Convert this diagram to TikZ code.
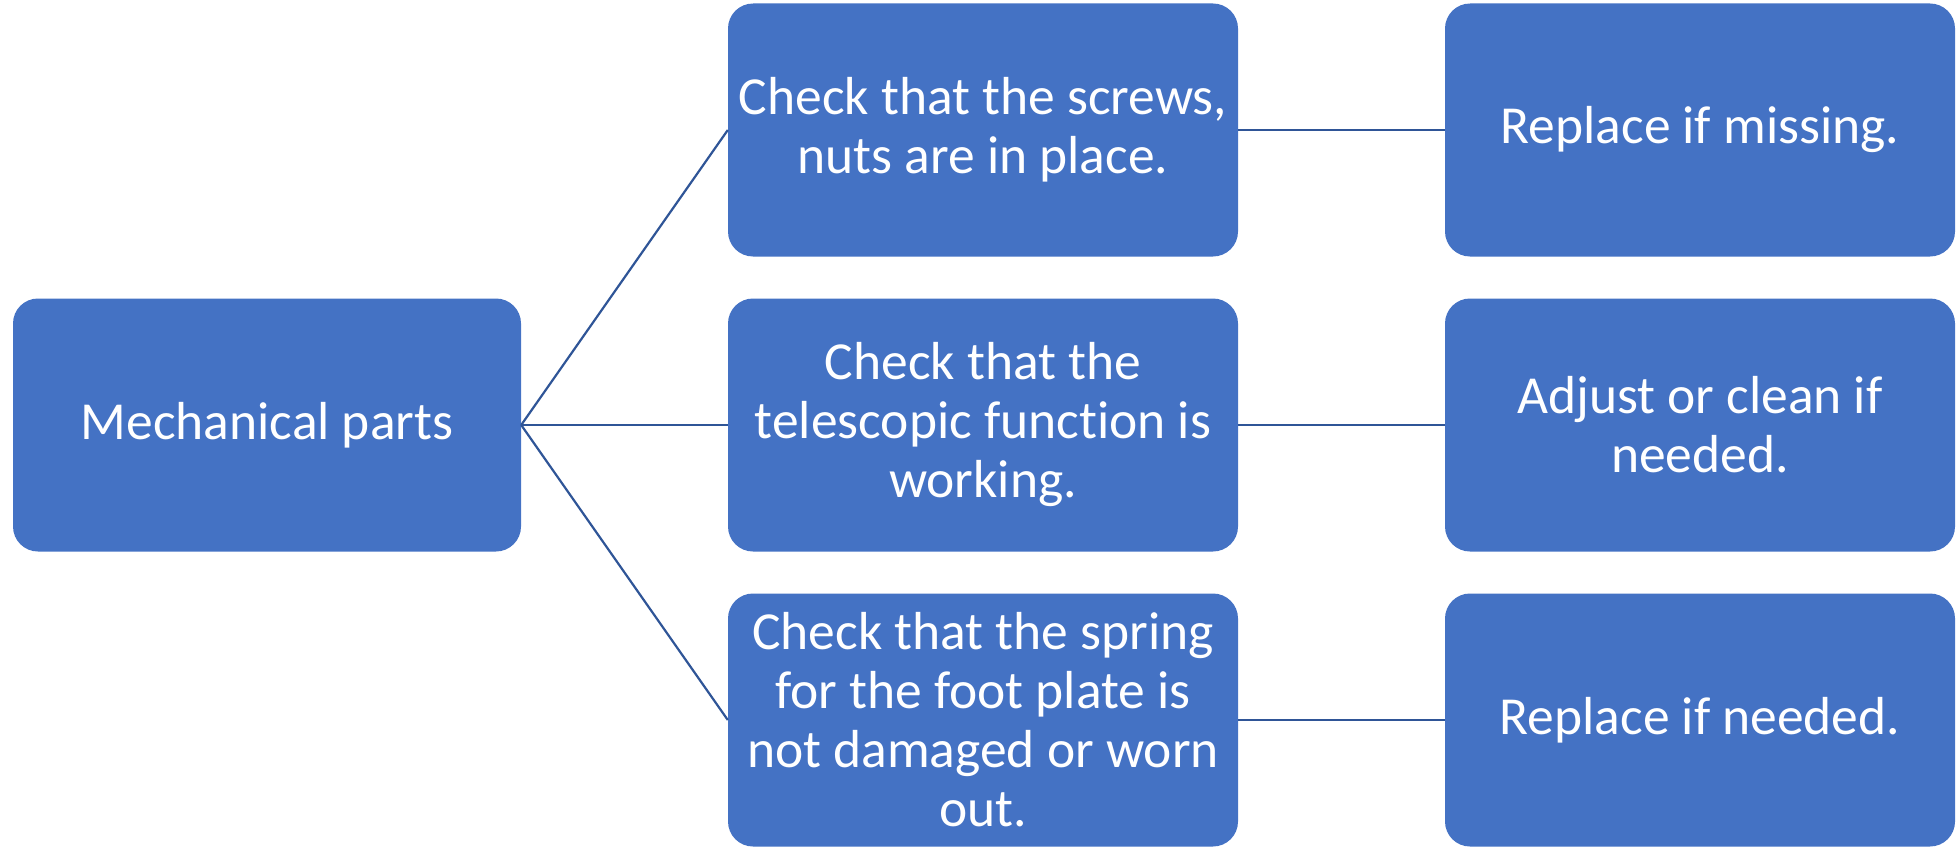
\documentclass[tikz,border=0pt]{standalone}
\usepackage{fontspec}
\setmainfont[Ligatures=NoCommon]{Carlito}
\usepackage{xcolor}
\definecolor{boxblue}{HTML}{4472C4}
\definecolor{lineblue}{HTML}{2F5597}
\usepackage{tikz}

\begin{document}
\begin{tikzpicture}[x=1pt,y=-1pt,
	box/.style={fill=boxblue,rounded corners=25pt,text=white,align=center,inner sep=0pt,
		minimum width=510pt,minimum height=253pt,font=\fontsize{53.5}{59}\selectfont},
	link/.style={draw=lineblue,line width=2.2pt}]
	\useasboundingbox (0,0) rectangle (1959,851);
	\node[box,minimum width=508pt] (mech) at (267,425) {Mechanical parts};
	\node[box] (screws) at (983,130) {Check that the screws,\\nuts are in place.};
	\node[box] (tele) at (983,425) {Check that the\\telescopic function is\\working.};
	\node[box] (spring) at (983,720) {Check that the spring\\for the foot plate is\\not damaged or worn\\out.};
	\node[box] (missing) at (1700,130) {Replace if missing.};
	\node[box] (adjust) at (1700,425) {Adjust or clean if\\needed.};
	\node[box] (needed) at (1700,720) {Replace if needed.};
	\draw[link] (mech.east) -- (screws.west);
	\draw[link] (mech.east) -- (tele.west);
	\draw[link] (mech.east) -- (spring.west);
	\draw[link] (screws.east) -- (missing.west);
	\draw[link] (tele.east) -- (adjust.west);
	\draw[link] (spring.east) -- (needed.west);
\end{tikzpicture}
\end{document}
